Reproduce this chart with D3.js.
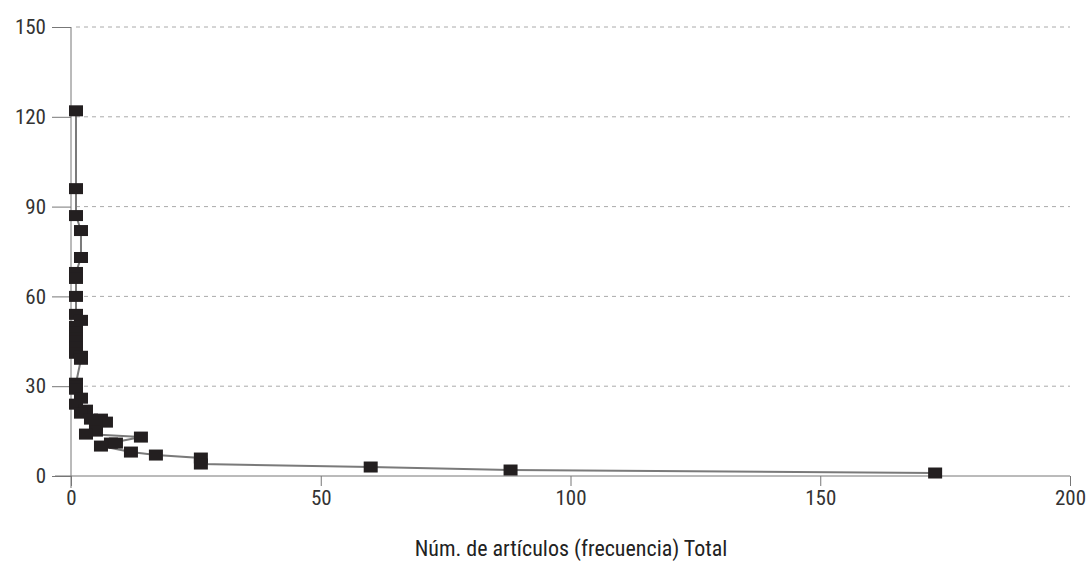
<!DOCTYPE html>
<html>
<head>
<meta charset="utf-8">
<script src="https://cdn.jsdelivr.net/npm/d3@7"></script>
<style>
  body { margin: 0; background: #fff; }
  text { font-family: "Roboto Condensed", "Liberation Sans Narrow", Roboto, sans-serif; }
</style>
</head>
<body>
<div id="chart"></div>
<script>
const WIDTH = 1088,
    HEIGHT = 585;

// articles per author (x) vs. authors (y), in plotting order
const articulos = [1, 1, 1, 2, 2, 1, 1, 1, 1, 2, 1, 1, 1, 1, 1, 1, 2, 2, 1, 1, 1, 2, 1, 3, 2, 4, 6, 7, 5, 5, 3, 14, 8, 9, 6, 12, 17, 26, 26, 60, 88, 173];
const autores = [122, 96, 87, 82, 73, 68, 66, 60, 54, 52, 50, 48, 46, 45, 43, 41, 40, 39, 31, 30, 29, 26, 24, 22, 21, 19, 19, 18, 17, 15, 14, 13, 11, 11, 10, 8, 7, 6, 4, 3, 2, 1];
const xTicks = [0, 50, 100, 150, 200];
const yTicks = [0, 30, 60, 90, 120, 150];
const xTitle = "Núm. de artículos (frecuencia) Total";

const points = articulos.map((a, i) => ({ x: a, y: autores[i] }));

const svg = d3.select("#chart")
    .append("svg")
    .attr("width", WIDTH)
    .attr("height", HEIGHT);

const x = d3.scaleLinear().domain([0, 200]).range([71, 1070]);
const y = d3.scaleLinear().domain([0, 150]).range([476, 27]);

// dashed grid
svg.append("g")
    .selectAll("line")
    .data(yTicks.filter(t => t > 0))
    .join("line")
    .attr("x1", x(0) + 5)
    .attr("x2", x(200))
    .attr("y1", d => y(d))
    .attr("y2", d => y(d))
    .attr("stroke", "#aaa")
    .attr("stroke-width", 1)
    .attr("stroke-dasharray", "4,4");

// y axis
const yAxis = svg.append("g")
    .attr("transform", `translate(${x(0)},0)`)
    .call(d3.axisLeft(y).tickValues(yTicks).tickSize(19).tickPadding(6));
yAxis.select(".domain").remove();
yAxis.selectAll(".tick line").attr("stroke", "#777");
yAxis.selectAll("text")
    .attr("font-size", "21px")
    .attr("fill", "#333");
svg.append("line")
    .attr("x1", x(0)).attr("x2", x(0))
    .attr("y1", y(150)).attr("y2", y(0) + 12)
    .attr("stroke", "#777");

// x axis
const xAxis = svg.append("g")
    .attr("transform", `translate(0,${y(0)})`)
    .call(d3.axisBottom(x).tickValues(xTicks).tickSize(10).tickPadding(4));
xAxis.select(".domain").remove();
xAxis.selectAll(".tick line").attr("stroke", "#777");
xAxis.selectAll("text")
    .attr("font-size", "21px")
    .attr("fill", "#333");
svg.append("line")
    .attr("x1", x(0) - 16).attr("x2", x(200))
    .attr("y1", y(0)).attr("y2", y(0))
    .attr("stroke", "#777");

// series line
const line = d3.line().x(d => x(d.x)).y(d => y(d.y));
svg.append("path")
    .datum(points)
    .attr("d", line)
    .attr("fill", "none")
    .attr("stroke", "#7a7a7a")
    .attr("stroke-width", 2);

// square markers
svg.append("g")
    .selectAll("rect")
    .data(points)
    .join("rect")
    .attr("x", d => x(d.x) - 7)
    .attr("y", d => y(d.y) - 5.5)
    .attr("width", 14)
    .attr("height", 11)
    .attr("fill", "#231f20");

svg.append("text")
    .text(xTitle)
    .attr("x", 571)
    .attr("y", 556)
    .attr("font-size", "22px")
    .attr("fill", "#222")
    .attr("text-anchor", "middle");
</script>
</body>
</html>
